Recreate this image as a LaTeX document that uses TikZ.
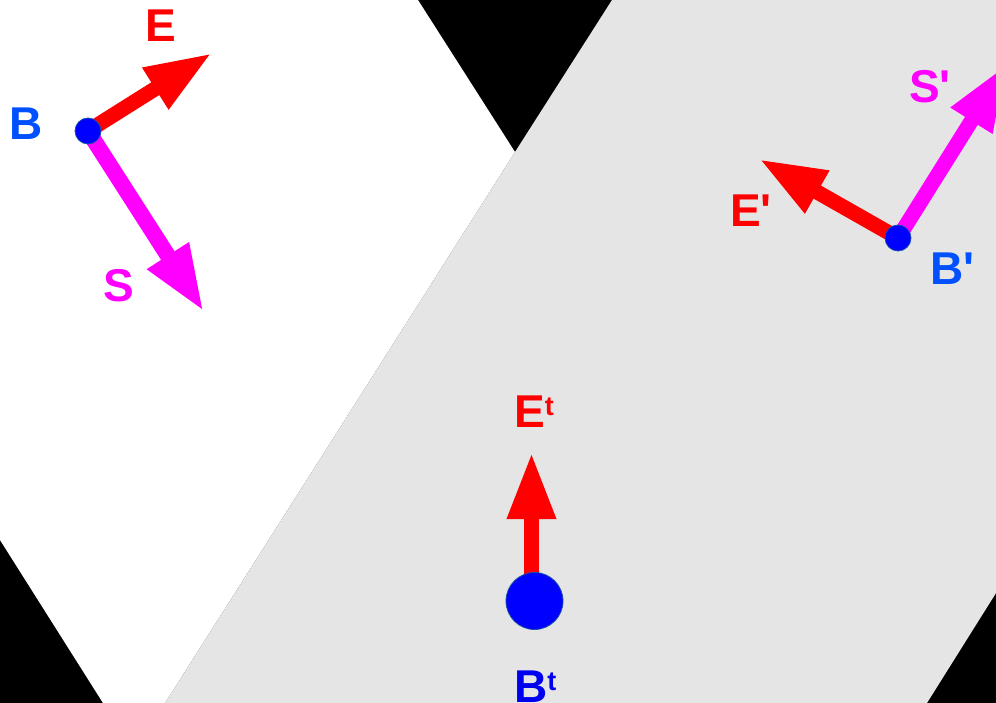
\documentclass[tikz,border=0pt]{standalone}
\usepackage{fontspec}
\setmainfont{Liberation Sans}[Ligatures=TeXOff]
\usetikzlibrary{arrows.meta}
\definecolor{bggray}{HTML}{E5E5E5}
\definecolor{vred}{HTML}{FF0000}
\definecolor{vmag}{HTML}{FF00FF}
\definecolor{dotblue}{HTML}{0000FF}
\definecolor{dotrim}{HTML}{1A4FA8}
\definecolor{labblue}{HTML}{0050FF}
\definecolor{tblue}{HTML}{0000F0}
\newcommand{\supt}{\raisebox{12pt}{\fontsize{27}{27}\selectfont t}}
\begin{document}
\begin{tikzpicture}[x=1pt,y=-1pt,
  vec/.style={line width=15pt,-{Triangle[length=67pt,width=45pt]}},
  dot/.style={circle,fill=dotblue,draw=dotrim,line width=0.8pt,inner sep=0pt,minimum size=#1},
  lab/.style={anchor=base west,inner sep=0pt,font=\fontsize{46}{46}\selectfont\bfseries}]
\useasboundingbox (0,0) rectangle (996,703);
\fill[black] (0,0) rectangle (996,703);
\clip (0,0) rectangle (996,703);
\fill[white] (0,0) -- (418,0) -- (515,152) -- (165,703) -- (103,703) -- (0,540) -- cycle;
\fill[bggray] (612,0) -- (996,0) -- (996,593) -- (927,703) -- (165,703) -- (515,152) -- cycle;
% points
\coordinate (B) at (88,131);
\coordinate (Etip) at (212,53);
\coordinate (Stip) at (204,312);
\coordinate (Bp) at (898,238);
\coordinate (Eptip) at (759,159);
\coordinate (Sptip) at (1007,64);
\coordinate (Bt) at (534.5,601);
\coordinate (Ets) at (531.5,590);
\coordinate (Ettip) at (531.5,452);
% arrows
\draw[vec,vred] (B) -- (Etip);
\draw[vec,vmag,line width=16pt] (B) -- (Stip);
\draw[vec,vred] (Bp) -- (Eptip);
\draw[vec,vmag] (Bp) -- (Sptip);
\draw[vec,vred] (Ets) -- (Ettip);
% dots
\node[dot=26pt] (Bdot) at (B) {};
\node[dot=26pt] (Bpdot) at (Bp) {};
\node[dot=57pt] (Btdot) at (Bt) {};
% labels
\node[lab,labblue] (LB) at (9,140) {B};
\node[lab,vred] (LE) at (145,42) {E};
\node[lab,vmag] (LS) at (103,302) {S};
\node[lab,vred] (LEp) at (730,227) {E'};
\node[lab,vmag] (LSp) at (909,103) {S'};
\node[lab,labblue] (LBp) at (930,285) {B'};
\node[lab,vred] (LEt) at (514,427) {E\supt};
\node[lab,tblue] (LBt) at (514,702) {B\supt};
\end{tikzpicture}
\end{document}
